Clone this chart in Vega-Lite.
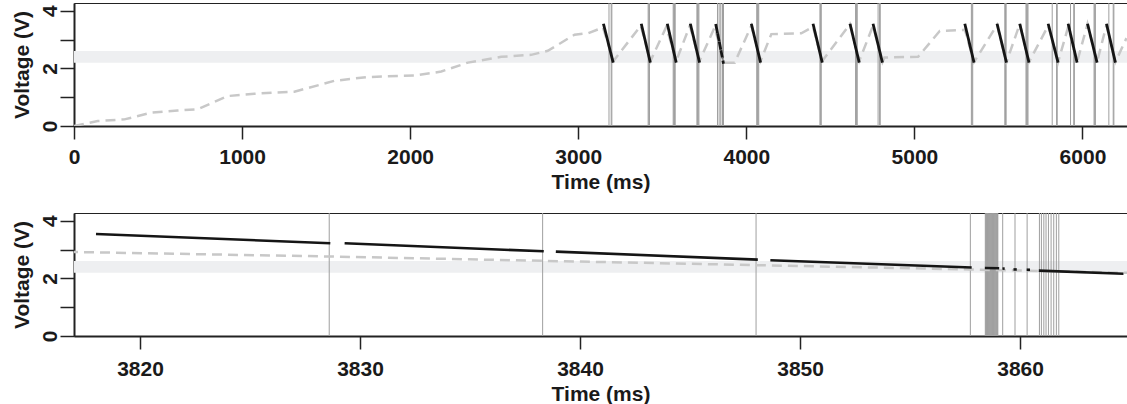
{
  "$schema": "https://vega.github.io/schema/vega-lite/v6.json",
  "background": "white",
  "padding": {"left": 10, "top": 2, "right": 1, "bottom": 0},
  "config": {
    "view": {"stroke": "#222", "strokeWidth": 1},
    "font": "Liberation Sans",
    "axis": {
      "labelFont": "Liberation Sans", "labelFontWeight": "bold", "labelFontSize": 21, "labelColor": "#1a1a1a",
      "titleFont": "Liberation Sans", "titleFontWeight": "bold", "titleFontSize": 21, "titleColor": "#1a1a1a",
      "domainColor": "#222", "domainWidth": 2, "tickColor": "#222", "tickWidth": 1.5, "tickSize": 13,
      "grid": false, "labelFlush": false, "labelOverlap": false
    },
    "axisX": {"labelPadding": 7, "titlePadding": 4, "labelAngle": 0},
    "axisY": {"labelAngle": 270, "labelAlign": "center", "labelBaseline": "alphabetic", "labelPadding": 4, "tickSize": 14, "titleAngle": 270, "titleBaseline": "alphabetic", "titlePadding": 11}
  },
  "datasets": {
    "band": [{"v": 2.2, "v2": 2.6}],
    "dashTop": [
      {"t": 0, "v": 0}, {"t": 141, "v": 0.17}, {"t": 300, "v": 0.23}, {"t": 458, "v": 0.46}, {"t": 617, "v": 0.54},
      {"t": 736, "v": 0.58}, {"t": 915, "v": 1.04}, {"t": 1073, "v": 1.12}, {"t": 1311, "v": 1.19}, {"t": 1550, "v": 1.57},
      {"t": 1748, "v": 1.70}, {"t": 1946, "v": 1.74}, {"t": 2026, "v": 1.75}, {"t": 2185, "v": 1.89}, {"t": 2343, "v": 2.20},
      {"t": 2542, "v": 2.40}, {"t": 2720, "v": 2.47}, {"t": 2819, "v": 2.61}, {"t": 2978, "v": 3.17}, {"t": 3058, "v": 3.22},
      {"t": 3147, "v": 3.42}, {"t": 3210, "v": 2.26}, {"t": 3372, "v": 3.48}, {"t": 3430, "v": 2.26}, {"t": 3524, "v": 3.44},
      {"t": 3583, "v": 2.26}, {"t": 3664, "v": 3.48}, {"t": 3722, "v": 2.26}, {"t": 3811, "v": 3.42}, {"t": 3871, "v": 2.20},
      {"t": 3931, "v": 2.20}, {"t": 4030, "v": 3.48}, {"t": 4085, "v": 2.26}, {"t": 4149, "v": 3.19}, {"t": 4327, "v": 3.22},
      {"t": 4397, "v": 3.44}, {"t": 4452, "v": 2.26}, {"t": 4617, "v": 3.54}, {"t": 4672, "v": 2.26}, {"t": 4754, "v": 3.48},
      {"t": 4810, "v": 2.22}, {"t": 4822, "v": 2.38}, {"t": 5022, "v": 2.40}, {"t": 5151, "v": 3.30}, {"t": 5289, "v": 3.33},
      {"t": 5300, "v": 3.35}, {"t": 5355, "v": 2.22}, {"t": 5492, "v": 3.51}, {"t": 5548, "v": 2.22}, {"t": 5627, "v": 3.54},
      {"t": 5682, "v": 2.22}, {"t": 5796, "v": 3.48}, {"t": 5855, "v": 2.22}, {"t": 5915, "v": 3.44}, {"t": 5968, "v": 2.22},
      {"t": 6030, "v": 3.54}, {"t": 6087, "v": 2.22}, {"t": 6143, "v": 3.51}, {"t": 6196, "v": 2.22}, {"t": 6262, "v": 3.05}
    ],
    "dashBottom": [
      {"t": 3816, "v": 2.93}, {"t": 3828.6, "v": 2.76}, {"t": 3838.3, "v": 2.61}, {"t": 3848, "v": 2.46}, {"t": 3857.7, "v": 2.31}, {"t": 3865, "v": 2.19}
    ],
    "active": [
      {"seg": "1", "t": 3150, "v": 3.55}, {"seg": "1", "t": 3208, "v": 2.2},
      {"seg": "2", "t": 3375, "v": 3.55}, {"seg": "2", "t": 3429, "v": 2.2},
      {"seg": "3", "t": 3530, "v": 3.55}, {"seg": "3", "t": 3583, "v": 2.2},
      {"seg": "4", "t": 3667, "v": 3.55}, {"seg": "4", "t": 3722, "v": 2.2},
      {"seg": "5a", "t": 3818.0, "v": 3.54}, {"seg": "5a", "t": 3828.65, "v": 3.22},
      {"seg": "5b", "t": 3829.3, "v": 3.22}, {"seg": "5b", "t": 3838.35, "v": 2.94},
      {"seg": "5c", "t": 3838.9, "v": 2.93}, {"seg": "5c", "t": 3848.08, "v": 2.65},
      {"seg": "5d", "t": 3848.65, "v": 2.63}, {"seg": "5d", "t": 3857.8, "v": 2.38},
      {"seg": "5e", "t": 3858.4, "v": 2.36}, {"seg": "5e", "t": 3859.05, "v": 2.35},
      {"seg": "5f", "t": 3859.2, "v": 2.34}, {"seg": "5f", "t": 3859.3, "v": 2.34},
      {"seg": "5g", "t": 3859.7, "v": 2.31}, {"seg": "5g", "t": 3859.85, "v": 2.31},
      {"seg": "5h", "t": 3860.3, "v": 2.30}, {"seg": "5h", "t": 3860.45, "v": 2.30},
      {"seg": "5i", "t": 3860.85, "v": 2.27}, {"seg": "5i", "t": 3864.7, "v": 2.16},
      {"seg": "6", "t": 4030, "v": 3.55}, {"seg": "6", "t": 4085, "v": 2.2},
      {"seg": "7", "t": 4397, "v": 3.55}, {"seg": "7", "t": 4452, "v": 2.2},
      {"seg": "8", "t": 4617, "v": 3.55}, {"seg": "8", "t": 4672, "v": 2.2},
      {"seg": "9", "t": 4754, "v": 3.55}, {"seg": "9", "t": 4810, "v": 2.2},
      {"seg": "10", "t": 5300, "v": 3.55}, {"seg": "10", "t": 5355, "v": 2.2},
      {"seg": "11", "t": 5492, "v": 3.55}, {"seg": "11", "t": 5548, "v": 2.2},
      {"seg": "12", "t": 5627, "v": 3.55}, {"seg": "12", "t": 5682, "v": 2.2},
      {"seg": "13", "t": 5796, "v": 3.55}, {"seg": "13", "t": 5855, "v": 2.2},
      {"seg": "14", "t": 5915, "v": 3.55}, {"seg": "14", "t": 5968, "v": 2.2},
      {"seg": "15", "t": 6030, "v": 3.55}, {"seg": "15", "t": 6087, "v": 2.2},
      {"seg": "16", "t": 6143, "v": 3.55}, {"seg": "16", "t": 6196, "v": 2.2}
    ],
    "events": [
      {"t": 3183}, {"t": 3196}, {"t": 3200},
      {"t": 3416}, {"t": 3420}, {"t": 3424},
      {"t": 3565}, {"t": 3569}, {"t": 3573}, {"t": 3577},
      {"t": 3706}, {"t": 3710}, {"t": 3714}, {"t": 3718},
      {"t": 3828.6}, {"t": 3838.3}, {"t": 3848.0}, {"t": 3857.74},
      {"t": 3858.42}, {"t": 3858.445}, {"t": 3858.47}, {"t": 3858.495}, {"t": 3858.52}, {"t": 3858.545}, {"t": 3858.57}, {"t": 3858.595},
      {"t": 3858.62}, {"t": 3858.645}, {"t": 3858.67}, {"t": 3858.695}, {"t": 3858.72}, {"t": 3858.745}, {"t": 3858.77}, {"t": 3858.795},
      {"t": 3858.82}, {"t": 3858.845}, {"t": 3858.87}, {"t": 3858.895}, {"t": 3858.92}, {"t": 3858.945}, {"t": 3858.97}, {"t": 3858.99},
      {"t": 3859.21}, {"t": 3859.77}, {"t": 3860.32},
      {"t": 3860.88}, {"t": 3860.97}, {"t": 3861.08}, {"t": 3861.18}, {"t": 3861.29}, {"t": 3861.41}, {"t": 3861.53}, {"t": 3861.65}, {"t": 3861.76},
      {"t": 4062}, {"t": 4066}, {"t": 4070}, {"t": 4074},
      {"t": 4438}, {"t": 4442}, {"t": 4446},
      {"t": 4650}, {"t": 4656}, {"t": 4660},
      {"t": 4784}, {"t": 4793}, {"t": 4797},
      {"t": 5339}, {"t": 5343}, {"t": 5347},
      {"t": 5538}, {"t": 5542}, {"t": 5546},
      {"t": 5664}, {"t": 5668}, {"t": 5672}, {"t": 5676},
      {"t": 5820}, {"t": 5846}, {"t": 5850},
      {"t": 5929}, {"t": 5948}, {"t": 5952},
      {"t": 6069}, {"t": 6073}, {"t": 6077},
      {"t": 6157}, {"t": 6183}, {"t": 6187}
    ]
  },
  "spacing": 19,
  "vconcat": [
    {
      "width": 1053,
      "height": 123,
      "layer": [
        {
          "data": {"name": "band"},
          "mark": {"type": "rect", "color": "#eeeff1"},
          "encoding": {
            "y": {"field": "v", "type": "quantitative", "title": "Voltage (V)", "scale": {"domain": [0, 4.27], "nice": false, "zero": false},
                  "axis": {"values": [0, 1, 2, 3, 4], "format": "d", "labelExpr": "datum.value % 2 === 0 ? datum.label : ''"}},
            "y2": {"field": "v2"}
          }
        },
        {
          "data": {"name": "events"},
          "mark": {"type": "rule", "color": "#9f9f9f", "strokeWidth": 1, "clip": true},
          "encoding": {
            "x": {"field": "t", "type": "quantitative", "title": "Time (ms)", "scale": {"domain": [0, 6265], "nice": false, "zero": false},
                  "axis": {"values": [0, 1000, 2000, 3000, 4000, 5000, 6000], "format": "d"}}
          }
        },
        {
          "data": {"name": "dashTop"},
          "mark": {"type": "line", "color": "#c8c8c8", "strokeWidth": 2.5, "strokeDash": [10, 6], "clip": true},
          "encoding": {
            "x": {"field": "t", "type": "quantitative", "title": "Time (ms)", "scale": {"domain": [0, 6265], "nice": false, "zero": false},
                  "axis": {"values": [0, 1000, 2000, 3000, 4000, 5000, 6000], "format": "d"}},
            "y": {"field": "v", "type": "quantitative", "title": "Voltage (V)", "scale": {"domain": [0, 4.27], "nice": false, "zero": false},
                  "axis": {"values": [0, 1, 2, 3, 4], "format": "d", "labelExpr": "datum.value % 2 === 0 ? datum.label : ''"}}
          }
        },
        {
          "data": {"name": "active"},
          "mark": {"type": "line", "color": "#151515", "strokeWidth": 2.8, "clip": true},
          "encoding": {
            "x": {"field": "t", "type": "quantitative", "title": "Time (ms)", "scale": {"domain": [0, 6265], "nice": false, "zero": false},
                  "axis": {"values": [0, 1000, 2000, 3000, 4000, 5000, 6000], "format": "d"}},
            "y": {"field": "v", "type": "quantitative", "title": "Voltage (V)", "scale": {"domain": [0, 4.27], "nice": false, "zero": false},
                  "axis": {"values": [0, 1, 2, 3, 4], "format": "d", "labelExpr": "datum.value % 2 === 0 ? datum.label : ''"}},
            "detail": {"field": "seg", "type": "nominal"}
          }
        }
      ]
    },
    {
      "width": 1053,
      "height": 123,
      "layer": [
        {
          "data": {"name": "band"},
          "mark": {"type": "rect", "color": "#eeeff1"},
          "encoding": {
            "y": {"field": "v", "type": "quantitative", "title": "Voltage (V)", "scale": {"domain": [0, 4.27], "nice": false, "zero": false},
                  "axis": {"values": [0, 1, 2, 3, 4], "format": "d", "labelExpr": "datum.value % 2 === 0 ? datum.label : ''"}},
            "y2": {"field": "v2"}
          }
        },
        {
          "data": {"name": "events"},
          "mark": {"type": "rule", "color": "#9f9f9f", "strokeWidth": 1, "clip": true},
          "encoding": {
            "x": {"field": "t", "type": "quantitative", "title": "Time (ms)", "scale": {"domain": [3817, 3864.86], "nice": false, "zero": false},
                  "axis": {"values": [3820, 3830, 3840, 3850, 3860], "format": "d", "labelPadding": 9}}
          }
        },
        {
          "data": {"name": "dashBottom"},
          "mark": {"type": "line", "color": "#c8c8c8", "strokeWidth": 2.5, "strokeDash": [10, 6], "clip": true},
          "encoding": {
            "x": {"field": "t", "type": "quantitative", "title": "Time (ms)", "scale": {"domain": [3817, 3864.86], "nice": false, "zero": false},
                  "axis": {"values": [3820, 3830, 3840, 3850, 3860], "format": "d", "labelPadding": 9}},
            "y": {"field": "v", "type": "quantitative", "title": "Voltage (V)", "scale": {"domain": [0, 4.27], "nice": false, "zero": false},
                  "axis": {"values": [0, 1, 2, 3, 4], "format": "d", "labelExpr": "datum.value % 2 === 0 ? datum.label : ''"}}
          }
        },
        {
          "data": {"name": "active"},
          "mark": {"type": "line", "color": "#151515", "strokeWidth": 2.6, "clip": true},
          "encoding": {
            "x": {"field": "t", "type": "quantitative", "title": "Time (ms)", "scale": {"domain": [3817, 3864.86], "nice": false, "zero": false},
                  "axis": {"values": [3820, 3830, 3840, 3850, 3860], "format": "d", "labelPadding": 9}},
            "y": {"field": "v", "type": "quantitative", "title": "Voltage (V)", "scale": {"domain": [0, 4.27], "nice": false, "zero": false},
                  "axis": {"values": [0, 1, 2, 3, 4], "format": "d", "labelExpr": "datum.value % 2 === 0 ? datum.label : ''"}},
            "detail": {"field": "seg", "type": "nominal"}
          }
        }
      ]
    }
  ]
}
